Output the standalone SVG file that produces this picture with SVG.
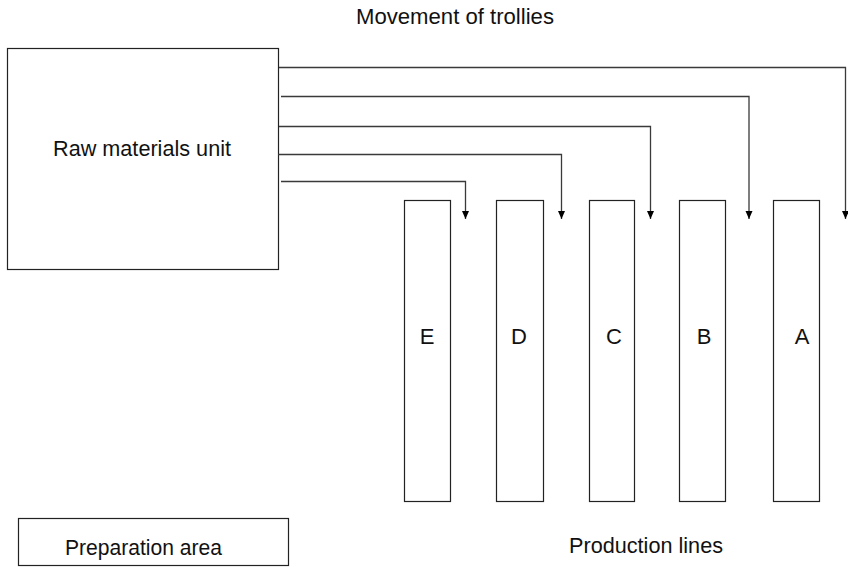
<svg xmlns="http://www.w3.org/2000/svg" width="848" height="567" viewBox="0 0 848 567">
<style>
.box{fill:#fff;stroke:#222;stroke-width:1.2}
.lbl{font-family:"Liberation Sans",Arial,sans-serif;font-size:22px;fill:#111}
.con{fill:none;stroke:#3a3a3a;stroke-width:1.3}
</style>
<defs>
<marker id="arr" markerWidth="8" markerHeight="9" refX="8" refY="4" orient="auto" markerUnits="userSpaceOnUse" viewBox="0 0 8 8">
<path d="M0,0.5 L8,4 L0,7.5 Z" fill="#000"/>
</marker>
</defs>
<rect width="848" height="567" fill="#fff"/>
<text class="lbl" x="356" y="24" textLength="198" lengthAdjust="spacingAndGlyphs">Movement of trollies</text>
<g id="raw">
<rect class="box" x="7.5" y="48.5" width="271" height="221"/>
<text class="lbl" x="53" y="156" textLength="178" lengthAdjust="spacingAndGlyphs">Raw materials unit</text>
</g>
<g id="prep">
<rect class="box" x="18.5" y="518.5" width="270" height="47"/>
<text class="lbl" x="65" y="555" textLength="157" lengthAdjust="spacingAndGlyphs">Preparation area</text>
</g>
<g id="lineE"><rect class="box" x="404.5" y="200.5" width="46" height="301"/><text class="lbl" x="427" y="344" text-anchor="middle">E</text></g>
<g id="lineD"><rect class="box" x="496.5" y="200.5" width="47" height="301"/><text class="lbl" x="519" y="344" text-anchor="middle">D</text></g>
<g id="lineC"><rect class="box" x="589.5" y="200.5" width="45" height="301"/><text class="lbl" x="614" y="344" text-anchor="middle">C</text></g>
<g id="lineB"><rect class="box" x="679.5" y="200.5" width="46" height="301"/><text class="lbl" x="704" y="344" text-anchor="middle">B</text></g>
<g id="lineA"><rect class="box" x="773.5" y="200.5" width="46" height="301"/><text class="lbl" x="802" y="344" text-anchor="middle">A</text></g>
<text class="lbl" x="569" y="553" textLength="154" lengthAdjust="spacingAndGlyphs">Production lines</text>
<g id="connectors">
<path class="con" d="M279,67.5 H845.5 V219" marker-end="url(#arr)"/>
<path class="con" d="M281,96.5 H749 V219" marker-end="url(#arr)"/>
<path class="con" d="M279,126.5 H650.5 V219" marker-end="url(#arr)"/>
<path class="con" d="M278,154.5 H561.5 V219" marker-end="url(#arr)"/>
<path class="con" d="M281,181.5 H465.5 V219" marker-end="url(#arr)"/>
</g>
</svg>
